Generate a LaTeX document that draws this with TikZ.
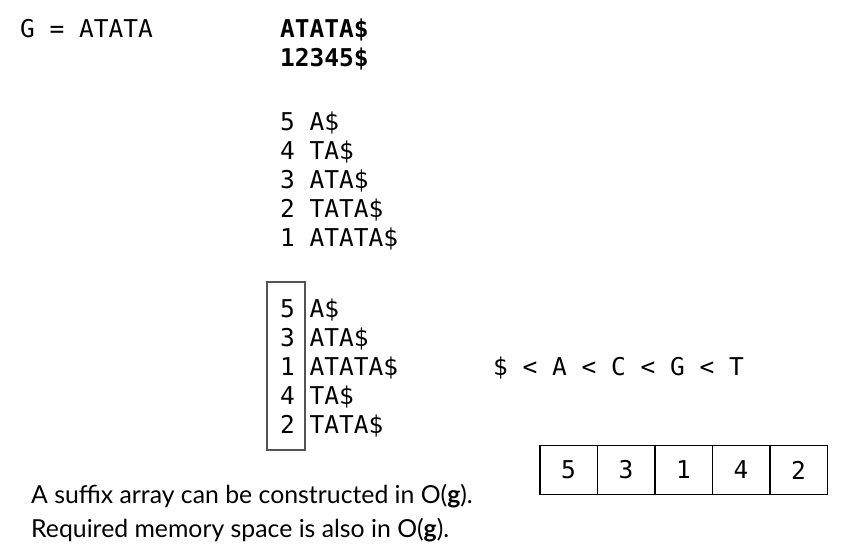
\documentclass[tikz,border=0pt]{standalone}
\usepackage{fontspec}
\setmainfont{Lato}
\newfontfamily\seqfont{DejaVu Sans Mono}
\usetikzlibrary{positioning}

\begin{document}
\begin{tikzpicture}[
    x=1pt, y=-1pt,
    inner sep=0pt
  ]

  % Styles
  \tikzstyle{seq}=[anchor=base west, font=\seqfont\fontsize{24.5}{29}\selectfont]
  \tikzstyle{seqbold}=[seq, font=\seqfont\bfseries\fontsize{24.5}{29}\selectfont]
  \tikzstyle{note}=[anchor=base west, font=\fontsize{24.8}{28}\selectfont]
  \tikzstyle{cell}=[draw, line width=1.5pt, minimum width=57.5pt, minimum height=49pt, font=\seqfont\fontsize{24.5}{29}\selectfont]

  \useasboundingbox (0,0) rectangle (841,556);

  % Text and its suffixes
  \node[seq] (genome) at (20,38) {G = ATATA};
  \node[seqbold] (text) at (280,38) {ATATA\$};
  \node[seqbold] (pos) at (280,67) {12345\$};

  % Suffixes in text order
  \node[seq] (s5) at (280,131) {5 A\$};
  \node[seq] (s4) at (280,160) {4 TA\$};
  \node[seq] (s3) at (280,189) {3 ATA\$};
  \node[seq] (s2) at (280,218) {2 TATA\$};
  \node[seq] (s1) at (280,247) {1 ATATA\$};

  % Suffixes in sorted order
  \node[seq] (r1) at (280,317) {5 A\$};
  \node[seq] (r2) at (280,346) {3 ATA\$};
  \node[seq] (r3) at (280,375) {1 ATATA\$};
  \node[seq] (r4) at (280,404) {4 TA\$};
  \node[seq] (r5) at (280,433) {2 TATA\$};
  \node[draw=black!67, line width=2.5pt, minimum width=38pt, minimum height=168pt] (sabox) at (286,366) {};

  % Alphabet order
  \node[seq] (order) at (493,375) {\$ < A < C < G < T};

  % Suffix array
  \node[cell] (c1) at (568.5,470) {5};
  \node[cell] (c2) at (626,470) {3};
  \node[cell] (c3) at (683.5,470) {1};
  \node[cell] (c4) at (741,470) {4};
  \node[cell] (c5) at (798.5,470) {2};

  % Notes
  \node[note] (build) at (31,503) {A suffix array can be constructed in O(\textbf{g}).};
  \node[note] (memory) at (31,537) {Required memory space is also in O(\textbf{g}).};

\end{tikzpicture}
\end{document}
